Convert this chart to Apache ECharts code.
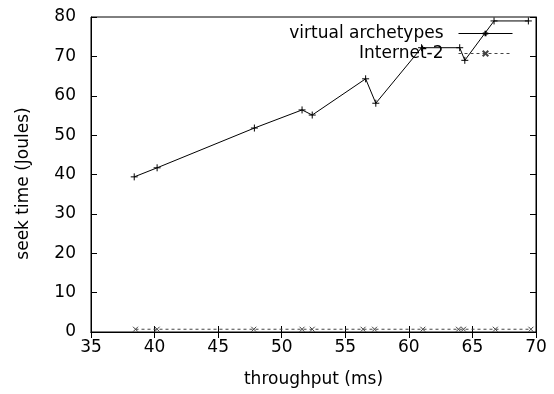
<!DOCTYPE html>
<html><head><meta charset="utf-8">
<script src="https://cdn.jsdelivr.net/npm/echarts@6/dist/echarts.min.js"></script>
<style>html,body{margin:0;padding:0;background:#fff}#c{width:554px;height:394px}</style>
</head><body><div id="c"></div>
<script>
var xVirtual = [38.4, 40.2, 47.85, 51.6, 52.4, 56.6, 57.4, 61.0, 64.0, 64.4, 66.7, 69.4];
var yVirtual = [39.4, 41.7, 51.8, 56.4, 55.1, 64.3, 58.1, 72.2, 72.2, 69.0, 79.0, 79.0];
var xInternet = [38.5, 40.2, 47.8, 51.6, 52.4, 56.4, 57.3, 61.1, 63.9, 64.3, 66.8, 69.6];
var yInternet = [0.7, 0.7, 0.7, 0.7, 0.7, 0.7, 0.7, 0.7, 0.7, 0.7, 0.7, 0.7];
var xTicks = [35, 40, 45, 50, 55, 60, 65, 70];
var yTicks = [0, 10, 20, 30, 40, 50, 60, 70, 80];

var font = '"DejaVu Sans", sans-serif';
var fs = 17;
function pairs(xs, ys){ return xs.map(function(x,i){ return [x, ys[i]]; }); }
var plus = 'path://M0,5L10,5M5,0L5,10';
var cross = 'path://M0,0L10,10M10,0L0,10';

var chart = echarts.init(document.getElementById('c'), null, {renderer:'canvas'});
var axX = {
  type:'value', min:xTicks[0], max:xTicks[xTicks.length-1], interval:5,
  axisLine:{show:true, lineStyle:{color:'#000', width:1}},
  axisTick:{show:true, inside:true, length:6, lineStyle:{color:'#000'}},
  splitLine:{show:false}
};
var axY = {
  type:'value', min:yTicks[0], max:yTicks[yTicks.length-1], interval:10,
  axisLine:{show:true, lineStyle:{color:'#000', width:1}},
  axisTick:{show:true, inside:true, length:6, lineStyle:{color:'#000'}},
  splitLine:{show:false}
};
var legendCommon = {
  right:36, align:'right', orient:'vertical',
  itemWidth:54, itemHeight:7,
  lineStyle:{width:1},
  textStyle:{fontFamily:font, fontSize:fs, color:'#000', padding:[0,10,0,0]}
};
chart.setOption({
  animation:false,
  backgroundColor:'#fff',
  grid:{left:91, right:18, top:17, bottom:62, show:true, borderColor:'#000', borderWidth:1},
  legend:[
    Object.assign({}, legendCommon, {data:['virtual archetypes'], top:20}),
    Object.assign({}, legendCommon, {data:['Internet-2'], top:40})
  ],
  xAxis:[Object.assign({}, axX, {
    position:'bottom',
    name:'throughput (ms)', nameLocation:'middle', nameGap:39,
    nameTextStyle:{fontFamily:font, fontSize:fs, color:'#000'},
    axisLabel:{fontFamily:font, fontSize:fs, color:'#000', margin:7}
  }), Object.assign({}, axX, {position:'top', axisLabel:{show:false}})],
  yAxis:[Object.assign({}, axY, {
    position:'left',
    name:'seek time (Joules)', nameLocation:'middle', nameGap:59,
    nameTextStyle:{fontFamily:font, fontSize:fs, color:'#000', padding:[0,18,0,0]},
    axisLabel:{fontFamily:font, fontSize:fs, color:'#000', margin:15}
  }), Object.assign({}, axY, {position:'right', axisLabel:{show:false}})],
  series:[{
    name:'virtual archetypes', type:'line', xAxisIndex:0, yAxisIndex:0,
    data:pairs(xVirtual, yVirtual),
    symbol:plus, symbolSize:7, showAllSymbol:true,
    lineStyle:{color:'#000', width:1},
    itemStyle:{color:'#000', borderColor:'#000', borderWidth:1}
  },{
    name:'Internet-2', type:'line', xAxisIndex:0, yAxisIndex:0,
    data:pairs(xInternet, yInternet),
    symbol:cross, symbolSize:5, showAllSymbol:true,
    lineStyle:{color:'#444', width:1, type:[3,3]},
    itemStyle:{color:'#444', borderColor:'#444', borderWidth:1}
  }]
});
</script></body></html>
